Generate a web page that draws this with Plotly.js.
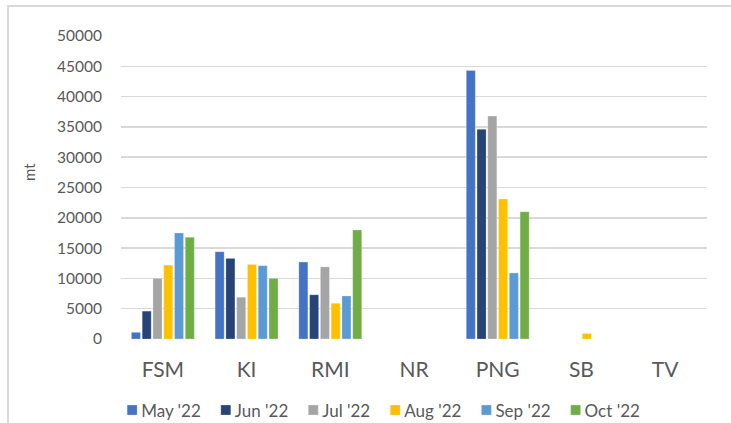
<!DOCTYPE html>
<html>
<head>
<meta charset="utf-8">
<script src="https://cdn.plot.ly/plotly-3.0.1.min.js"></script>
<style>
html,body{margin:0;padding:0;background:#fff;}
#wrap{position:relative;width:731px;height:423px;overflow:hidden;}
#chart{width:731px;height:423px;position:absolute;left:0;top:0;}
#frame{position:absolute;left:7px;top:5px;width:760px;height:460px;border-left:2px solid #d9d9d9;border-top:2px solid #d9d9d9;pointer-events:none;}
</style>
</head>
<body>
<div id="wrap">
<div id="chart"></div>
<div id="frame"></div>
</div>
<script>
const categories = ["FSM", "KI", "RMI", "NR", "PNG", "SB", "TV"];
const seriesNames = ["May '22", "Jun '22", "Jul '22", "Aug '22", "Sep '22", "Oct '22"];
const may22 = [1100, 14400, 12700, 0, 44300, 0, 0];
const jun22 = [4600, 13300, 7300, 0, 34600, 0, 0];
const jul22 = [10000, 6900, 11900, 0, 36800, 0, 0];
const aug22 = [12200, 12300, 5900, 0, 23100, 900, 0];
const sep22 = [17500, 12100, 7100, 0, 10900, 0, 0];
const oct22 = [16800, 10000, 18000, 0, 21000, 0, 0];
const colors = ["#4472C4", "#264478", "#A5A5A5", "#FFC000", "#5B9BD5", "#70AD47"];
const yTicks = [0, 5000, 10000, 15000, 20000, 25000, 30000, 35000, 40000, 45000, 50000];
const yTitle = "mt";

const allSeries = [may22, jun22, jul22, aug22, sep22, oct22];
const traces = allSeries.map((vals, i) => ({
  type: 'bar',
  name: seriesNames[i],
  x: categories,
  y: vals,
  marker: {color: colors[i], line: {color: 'rgba(255,255,255,0.5)', width: 0.5}},
  hoverinfo: 'x+y+name'
}));

const font = "Lato, 'Open Sans', sans-serif";
const layout = {
  width: 731, height: 423,
  margin: {l: 121, r: 24, t: 36, b: 84, autoexpand: false},
  paper_bgcolor: 'rgba(0,0,0,0)',
  plot_bgcolor: 'rgba(0,0,0,0)',
  barmode: 'group',
  bargap: 0.228,
  bargroupgap: 0.16,
  font: {family: font, color: '#595959', size: 13},
  xaxis: {
    type: 'category',
    showgrid: false, showline: false, zeroline: false,
    ticks: '', tickfont: {size: 21, color: '#595959'},
    ticklabelstandoff: 16
  },
  yaxis: {
    range: [0, 50000],
    tickvals: yTicks,
    ticktext: yTicks.map(String),
    showgrid: true, gridcolor: '#d9d9d9', gridwidth: 1.5,
    zeroline: false, showline: false, ticks: '',
    tickfont: {size: 15.5, color: '#595959'},
    ticklabelstandoff: 18
  },
  annotations: [{
    text: yTitle, textangle: -90, showarrow: false,
    xref: 'paper', yref: 'paper', x: -0.157, y: 0.551,
    xanchor: 'center', yanchor: 'middle',
    font: {size: 15, color: '#595959'}
  }],
  showlegend: true,
  legend: {
    orientation: 'h', x: 0.45, xanchor: 'center', y: -0.234, yanchor: 'middle',
    font: {size: 17, color: '#595959'}, traceorder: 'normal',
    itemwidth: 30, bgcolor: 'rgba(0,0,0,0)'
  }
};

function parseT(el) {
  const m = /translate\(([-\d.e]+)[,\s]+([-\d.e]+)\)/.exec((el && el.getAttribute('transform')) || '');
  return m ? [parseFloat(m[1]), parseFloat(m[2])] : [0, 0];
}

Plotly.newPlot('chart', traces, layout, {displayModeBar: false, staticPlot: true}).then(gd => {
  // Office-style legend row: small square, text close to it, single centred row
  const legend = gd.querySelector('g.legend');
  if (!legend) return;
  const items = Array.from(legend.querySelectorAll('g.traces'));
  if (!items.length) return;
  const ty0 = parseT(items[0])[1];
  let x = 0;
  const pos = [];
  items.forEach(it => {
    const txt = it.querySelector('text.legendtext');
    const path = it.querySelector('g.legendpoints path');
    if (path) path.setAttribute('d', 'M5,5H-5V-5H5Z');
    if (txt) txt.setAttribute('x', 29);
    const w = txt ? txt.getComputedTextLength() : 40;
    pos.push({it, x, w});
    x += w + 34;
  });
  const last = pos[pos.length - 1];
  const total = (last.x + 29 + last.w) - 15;
  pos.forEach(p => p.it.setAttribute('transform', `translate(${p.x},${ty0})`));
  const sb = legend.querySelector('g.scrollbox');
  let sbT = [0, 0];
  if (sb) { sbT = parseT(sb); sb.removeAttribute('clip-path'); }
  const targetCenterX = 383.5, targetCenterY = 410;
  const L = targetCenterX - total / 2 - 15 - sbT[0];
  const T = targetCenterY - sbT[1] - ty0;
  legend.setAttribute('transform', `translate(${L},${T})`);
});
</script>
</body>
</html>
